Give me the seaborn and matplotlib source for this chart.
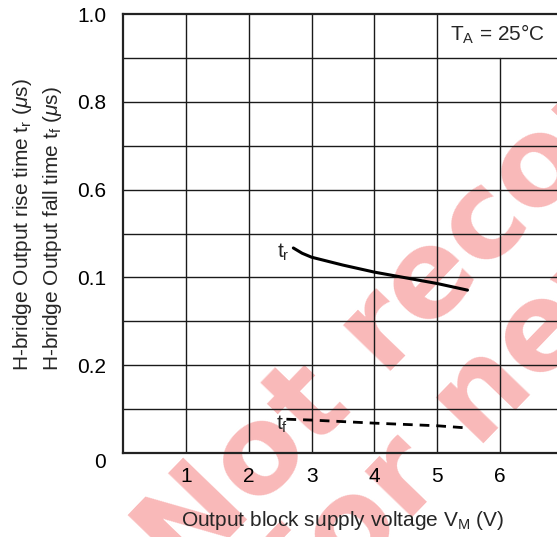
import numpy as np
import pandas as pd
import matplotlib
matplotlib.use("Agg")
import matplotlib.pyplot as plt
import seaborn as sns

# ---- data ----
tr_vm = [2.71, 2.85, 3.0, 3.5, 4.0, 4.5, 5.0, 5.48]
tr_us = [0.467, 0.455, 0.446, 0.428, 0.412, 0.399, 0.386, 0.371]
tf_vm = [2.60, 3.0, 4.0, 5.0, 5.48]
tf_us = [0.077, 0.075, 0.068, 0.062, 0.057]
x_ticks = [1, 2, 3, 4, 5, 6]
y_ticks = [0, 0.2, 0.4, 0.6, 0.8, 1.0]
y_tick_labels = ["0", "0.2", "0.1", "0.6", "0.8", "1.0"]

df = pd.concat([
    pd.DataFrame({"VM": tr_vm, "t": tr_us, "kind": "tr"}),
    pd.DataFrame({"VM": tf_vm, "t": tf_us, "kind": "tf"}),
])

sns.set_style("white")
plt.rcParams["font.family"] = ["Liberation Sans", "DejaVu Sans"]
plt.rcParams["mathtext.fontset"] = "custom"
plt.rcParams["mathtext.rm"] = "Liberation Sans"
plt.rcParams["mathtext.it"] = "Liberation Sans:italic"

FS = 15
fig = plt.figure(figsize=(5.57, 5.37), dpi=100)
fig.patch.set_facecolor("white")

# watermark (behind axes)
pink = "#f9b9b9"
fig.text(0.3305, -0.0892, "Not recommended", rotation=46, rotation_mode="anchor",
         ha="left", va="baseline", fontsize=88, fontweight="bold", color=pink,
         family="DejaVu Sans", zorder=-5)
fig.text(0.5578, -0.1594, "for new design", rotation=46, rotation_mode="anchor",
         ha="left", va="baseline", fontsize=88, fontweight="bold", color=pink,
         family="DejaVu Sans", zorder=-5)

ax = fig.add_axes([123/557, 1-453/537, 440/557, 439/537])
ax.set_facecolor("none")

sns.lineplot(data=df[df.kind == "tr"], x="VM", y="t", ax=ax, color="black",
             lw=2.2, sort=False, estimator=None)
sns.lineplot(data=df[df.kind == "tf"], x="VM", y="t", ax=ax, color="black",
             lw=2.0, sort=False, estimator=None, dashes=False)
ax.lines[-1].set_dashes([3.5, 2.5])

ax.set_xlim(0, 7)
ax.set_ylim(0, 1.0)
ax.set_xticks(x_ticks)
ax.set_xticklabels([str(v) for v in x_ticks])
ax.set_yticks(y_ticks)
ax.set_yticklabels(y_tick_labels)
ax.set_yticks(np.arange(0.1, 1.0, 0.2), minor=True)
ax.tick_params(axis="both", which="both", length=0, labelsize=FS, colors="black")
ax.tick_params(axis="x", pad=10)
ax.tick_params(axis="y", pad=12)
ax.get_yticklabels()[0].set_va("top")

# grid
gc = "#1a1a1a"
for yv in list(np.arange(0.1, 1.0, 0.1)):
    ax.axhline(yv, color=gc, lw=1.0, zorder=1)
for xv in x_ticks[:-1]:
    ax.axvline(xv, color=gc, lw=1.0, zorder=1)
ax.axvline(x_ticks[-1], ymax=0.9, color=gc, lw=1.0, zorder=1)

for s in ["left", "bottom", "top"]:
    ax.spines[s].set_visible(True)
    ax.spines[s].set_color("#222222")
    ax.spines[s].set_linewidth(1.6)
ax.spines["right"].set_visible(False)

ax.set_xlabel(r"Output block supply voltage V$_{\mathregular{M}}$ (V)", fontsize=FS, labelpad=17)
ax.set_ylabel("")

fig.text(0.0673, 1-371/537,
         "H-bridge Output rise time t$_{\\mathregular{r}}$ ($\\mu$s)\n"
         "H-bridge Output fall time t$_{\\mathregular{f}}$ ($\\mu$s)",
         rotation=90, rotation_mode="anchor", ha="left", va="center",
         multialignment="left", fontsize=FS, linespacing=1.45)

ax.text(0.959, 0.954, r"T$_{\mathregular{A}}$ = 25°C", transform=ax.transAxes,
        ha="right", va="center", fontsize=FS)
ax.text(2.65, 0.458, r"t$_{\mathregular{r}}$", ha="right", va="center", fontsize=FS)
ax.text(2.62, 0.066, r"t$_{\mathregular{f}}$", ha="right", va="center", fontsize=FS)

fig.savefig("out.png", dpi=100)
